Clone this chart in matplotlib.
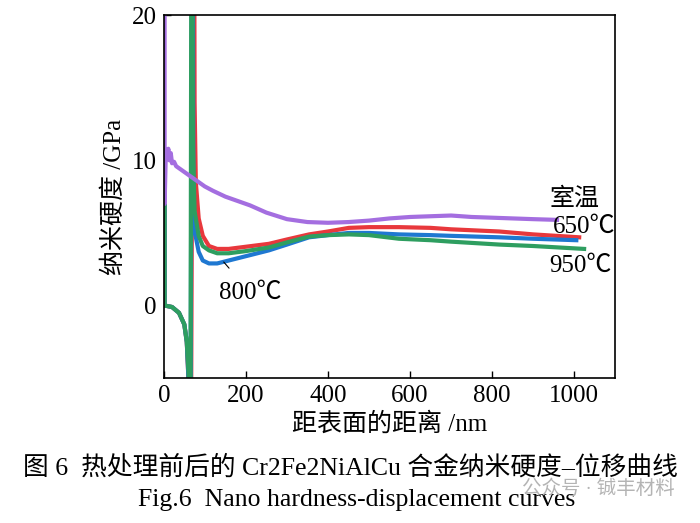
import matplotlib
matplotlib.use("Agg")
import matplotlib.pyplot as plt

plt.rcParams['font.family'] = ['Liberation Serif', 'Noto Sans CJK SC', 'DejaVu Sans']

# datos (profundidad en nm, dureza en GPa)
x_rt = [2, 2, 5, 8, 11, 14, 17, 20, 25, 30, 40, 50, 60, 70, 85, 100, 120, 150, 180, 210, 250,
        300, 350, 400, 450, 500, 550, 600, 650, 700, 750, 800, 850, 900, 958]
y_rt = [25, 7, 10.6, 10.1, 10.8, 10.0, 10.5, 9.8, 9.9, 9.6, 9.4, 9.2, 9.0, 8.8, 8.5, 8.2, 7.9, 7.5,
        7.2, 6.9, 6.4, 5.95, 5.75, 5.7, 5.75, 5.85, 6.0, 6.1, 6.15, 6.2, 6.1, 6.05, 6.0, 5.95, 5.9]

x_650 = [2, 2, 20, 37, 50, 56, 60, 62, 73, 75, 78, 85, 95, 110, 130, 158, 200, 256, 300, 354,
         400, 451, 500, 573, 650, 700, 817, 900, 1012]
y_650 = [7, 0, -0.1, -0.5, -1.3, -2.5, -5, -40, 40, 14, 8.5, 6.0, 4.8, 4.1, 3.9, 3.9, 4.05, 4.25,
         4.55, 4.9, 5.1, 5.35, 5.4, 5.4, 5.35, 5.25, 5.1, 4.9, 4.7]

x_800 = [2, 2, 20, 37, 50, 56, 60, 62, 70, 72, 76, 85, 95, 110, 130, 158, 200, 256, 300, 354,
         400, 451, 500, 573, 650, 700, 817, 900, 1005]
y_800 = [7, 0, -0.1, -0.5, -1.3, -2.5, -5, -40, 40, 7, 5.0, 3.7, 3.1, 2.9, 2.9, 3.1, 3.4, 3.8,
         4.2, 4.7, 4.85, 5.0, 5.0, 4.9, 4.85, 4.8, 4.7, 4.6, 4.5]

x_950 = [2, 2, 20, 37, 50, 56, 61, 63, 68, 71, 75, 85, 95, 110, 130, 158, 200, 256, 300, 354,
         400, 451, 500, 573, 650, 700, 817, 900, 1024]
y_950 = [7, 0, -0.1, -0.5, -1.3, -2.5, -5, -40, 40, 11, 6.5, 4.8, 4.1, 3.8, 3.6, 3.6, 3.75, 4.0,
         4.35, 4.75, 4.85, 4.9, 4.85, 4.6, 4.5, 4.4, 4.2, 4.1, 3.9]

fig = plt.figure(figsize=(7, 5.23), dpi=100)
ax = fig.add_axes([0.234, 0.277, 0.645, 0.694])

ax.plot(x_650, y_650, color="#e8383c", lw=3, solid_joinstyle="round")
ax.plot(x_800, y_800, color="#1f78d1", lw=3, solid_joinstyle="round")
ax.plot(x_950, y_950, color="#2e9e60", lw=3, solid_joinstyle="round")
ax.plot(x_rt, y_rt, color="#a46ee0", lw=3, solid_joinstyle="round")

ax.set_xlim(0, 1100)
ax.set_ylim(-5, 20)
ax.set_xticks([0, 200, 400, 600, 800, 1000])
ax.set_yticks([0, 10, 20])
ax.tick_params(direction="in", length=5, width=1, labelsize=18, pad=5)
for s in ax.spines.values():
    s.set_linewidth(1.2)

ax.set_xlabel("距表面的距离 /nm", fontsize=18, labelpad=4)
ax.set_ylabel("纳米硬度 /GPa", fontsize=18, labelpad=4)

ax.text(1000, 7.3, "室温", fontsize=18, ha="center", va="center")
ax.text(1024, 5.4, "650℃", fontsize=18, ha="center", va="center")
ax.text(1015, 2.7, "950℃", fontsize=18, ha="center", va="center")
ax.annotate("800℃", xy=(146, 3.0), xytext=(210, 0.9), fontsize=18, ha="center", va="center",
            arrowprops=dict(arrowstyle="-", color="black", lw=0.8, shrinkA=10, shrinkB=0))

fig.text(0.5, 0.107, "图 6  热处理前后的 Cr2Fe2NiAlCu 合金纳米硬度–位移曲线", fontsize=18.5,
         ha="center", va="center")
fig.text(0.51, 0.044, "Fig.6  Nano hardness-displacement curves", fontsize=18.5,
         ha="center", va="center")
# marca de agua de la fuente
fig.text(0.855, 0.066, "公众号 · 铖丰材料", fontsize=14, color="#b4b4b4",
         ha="center", va="center")

fig.savefig("out.png", dpi=100)
